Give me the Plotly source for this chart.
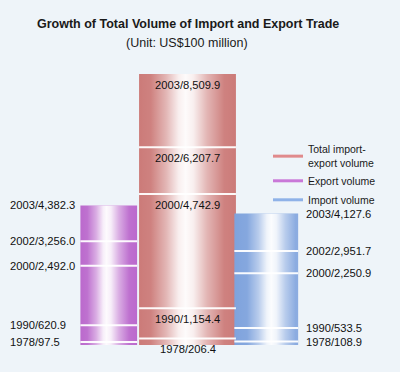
import plotly.graph_objects as go

# ---------------- data ----------------
years = ["1978", "1990", "2000", "2002", "2003"]
export_vals = [97.5, 620.9, 2492.0, 3256.0, 4382.3]
total_vals = [206.4, 1154.4, 4742.9, 6207.7, 8509.9]
import_vals = [108.9, 533.5, 2250.9, 2951.7, 4127.6]
title_text = "Growth of Total Volume of Import and Export Trade"
subtitle_text = "(Unit: US$100 million)"
legend_names = ["Total import-<br>export volume", "Export volume", "Import volume"]

# ---------------- styling / layout ----------------
W, H = 400, 372
BG = "#eef4f9"
x_pos = [0, 1, 2]                 # export, total, import
bar_widths = [0.72, 1.23, 0.81]
base_colors = ["#bb6acd", "#cc7b79", "#7fa3dd"]
legend_colors = ["#e08a8c", "#c978d8", "#8fb2e8"]
# highlight (white sheen) stops, as fraction across each bar: (pos, alpha)
sheens = [
    [(0, 0.0), (0.12, 0.05), (0.28, 0.45), (0.40, 0.88), (0.46, 0.97), (0.54, 0.88),
     (0.68, 0.45), (0.86, 0.05), (1, 0.0)],
    [(0, 0.0), (0.12, 0.05), (0.28, 0.45), (0.41, 0.88), (0.48, 0.97), (0.56, 0.88),
     (0.70, 0.45), (0.88, 0.05), (1, 0.0)],
    [(0, 0.0), (0.2, 0.05), (0.38, 0.45), (0.51, 0.88), (0.58, 0.97), (0.66, 0.88),
     (0.80, 0.45), (0.96, 0.1), (1, 0.1)],
]
PX_PER_X = 78.75
CENTER_PX = 187.5
BOTTOM_MARGIN = 27
TOP_FRACTION = 271 / 345
LABEL_FONT = dict(family="Liberation Sans, Arial, sans-serif", size=11.2, color="#111111")
TITLE_FONT = "Liberation Sans, Arial, sans-serif"

series = [export_vals, total_vals, import_vals]

fig = go.Figure()

for i, vals in enumerate(series):
    x0 = x_pos[i] - bar_widths[i] / 2
    x1 = x_pos[i] + bar_widths[i] / 2
    top = vals[-1]
    # main bar
    fig.add_trace(go.Bar(x=[x_pos[i]], y=[top], width=[bar_widths[i]],
                         marker=dict(color=base_colors[i], line=dict(width=0)),
                         showlegend=False, hoverinfo="skip"))
    # white sheen over the bar (same extent as the bar)
    cs = [[p, f"rgba(255,255,255,{a})"] for p, a in sheens[i]]
    fig.add_trace(go.Scatter(x=[x0, x1, x1, x0, x0], y=[0, 0, top, top, 0],
                             mode="lines", fill="toself", line=dict(width=0),
                             fillcolor="rgba(255,255,255,0)",
                             fillgradient=dict(type="horizontal", start=x0, stop=x1,
                                               colorscale=cs),
                             showlegend=False, hoverinfo="skip"))
    # white level lines for earlier years
    lx, ly = [], []
    for v in vals[:-1]:
        lx += [x0, x1, None]
        ly += [v, v, None]
    fig.add_trace(go.Scatter(x=lx, y=ly, mode="lines",
                             line=dict(color="rgba(255,255,255,0.95)", width=2),
                             showlegend=False, hoverinfo="skip"))

# legend entries (Total, Export, Import)
for name, col in zip(legend_names, legend_colors):
    fig.add_trace(go.Scatter(x=[None], y=[None], mode="lines", name=name,
                             line=dict(color=col, width=3)))

annotations = []
for i, vals in enumerate(series):
    x0 = x_pos[i] - bar_widths[i] / 2
    x1 = x_pos[i] + bar_widths[i] / 2
    for yr, v in zip(years, vals):
        txt = f"{yr}/{v:,.1f}"
        if i == 0:
            annotations.append(dict(x=x0, y=v, text=txt, showarrow=False, xanchor="right",
                                    yanchor="middle", width=68, align="left", xshift=0,
                                    font=LABEL_FONT))
        elif i == 2:
            annotations.append(dict(x=x1, y=v, text=txt, showarrow=False, xanchor="left",
                                    yanchor="middle", xshift=6, font=LABEL_FONT))
        else:
            annotations.append(dict(x=x_pos[i], y=v, text=txt, showarrow=False,
                                    xanchor="center", yanchor="top", yshift=-3,
                                    font=LABEL_FONT))

plot_h = H - BOTTOM_MARGIN
annotations.append(dict(xref="paper", yref="paper", x=188 / W, y=1 - 24 / plot_h,
                        xanchor="center", yanchor="middle",
                        text=f"<b>{title_text}</b>", showarrow=False,
                        font=dict(family=TITLE_FONT, size=12.5, color="#1a1a1a")))
annotations.append(dict(xref="paper", yref="paper", x=187 / W, y=1 - 43 / plot_h,
                        xanchor="center", yanchor="middle",
                        text=subtitle_text, showarrow=False,
                        font=dict(family=TITLE_FONT, size=12.5, color="#1a1a1a")))

xmin = 1 - CENTER_PX / PX_PER_X
xmax = xmin + W / PX_PER_X
ymax = max(total_vals) / TOP_FRACTION

fig.update_layout(
    width=W, height=H,
    margin=dict(l=0, r=0, t=0, b=BOTTOM_MARGIN),
    paper_bgcolor=BG, plot_bgcolor=BG,
    barmode="overlay",
    xaxis=dict(range=[xmin, xmax], visible=False, fixedrange=True),
    yaxis=dict(range=[0, ymax], visible=False, fixedrange=True),
    showlegend=True,
    legend=dict(x=268 / W, y=1 - 136 / plot_h, xanchor="left", yanchor="top",
                bgcolor="rgba(0,0,0,0)", tracegroupgap=0,
                font=dict(family=TITLE_FONT, size=10.5, color="#1a1a1a")),
    annotations=annotations,
)

fig.write_html("out.html", config={"displayModeBar": False},
               post_script="document.body.style.margin='0px';")
